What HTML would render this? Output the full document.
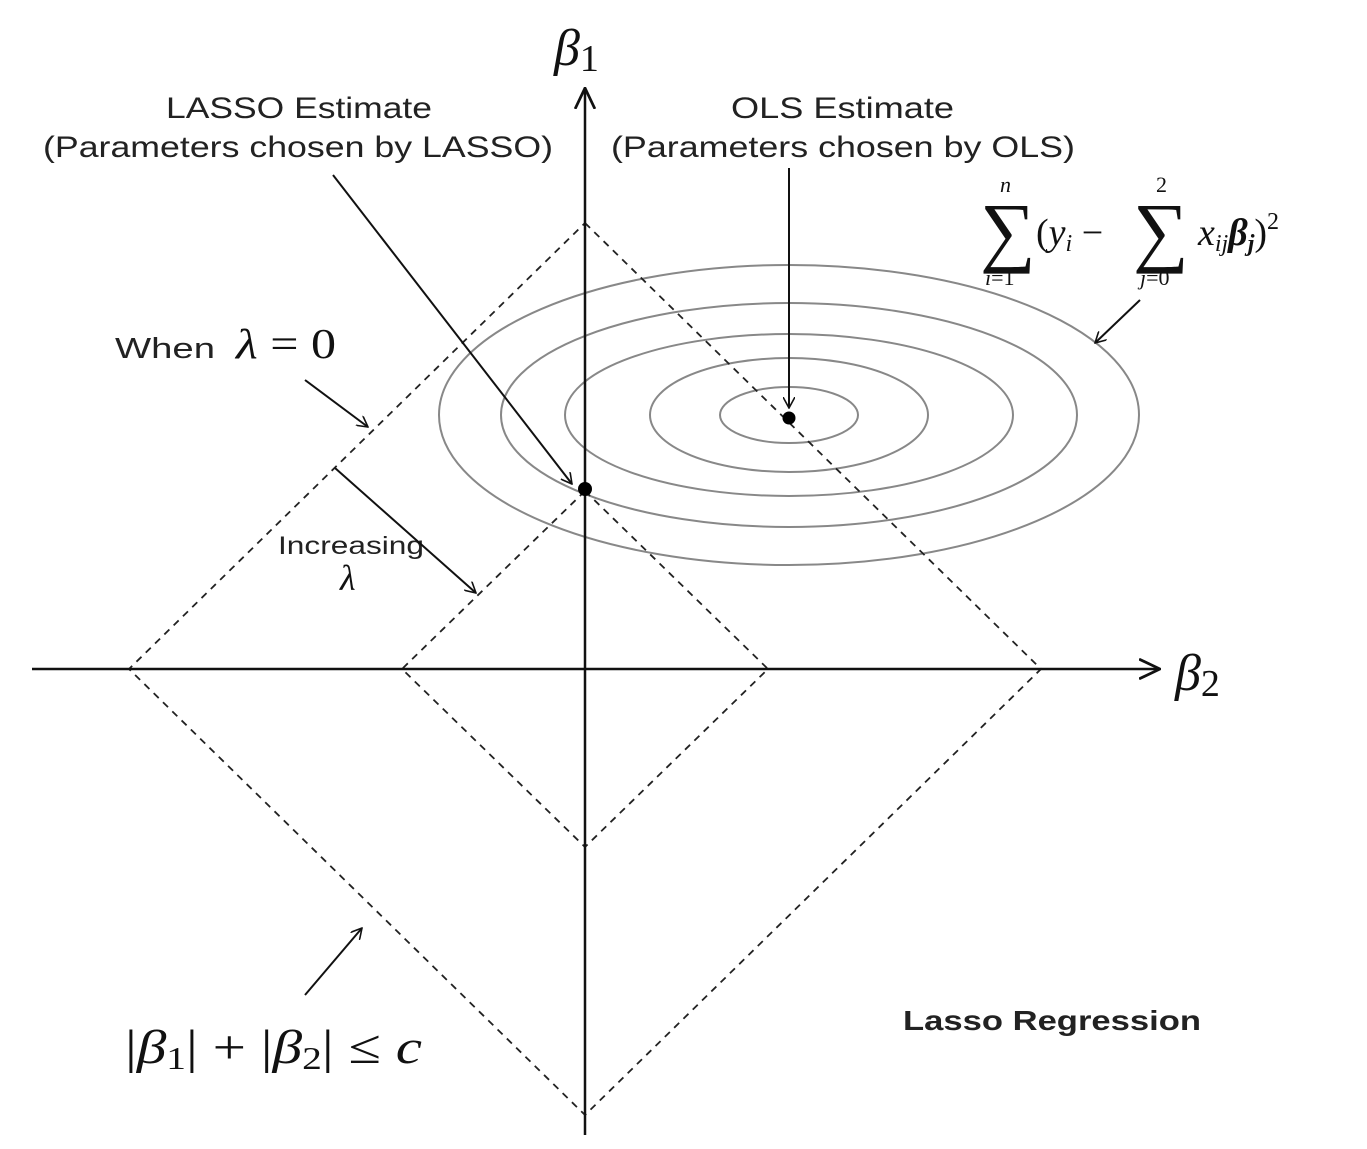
<!DOCTYPE html>
<html><head><meta charset="utf-8"><style>
html,body{margin:0;padding:0;background:#fff;width:1367px;height:1149px;overflow:hidden}
svg{display:block}
.lbl{font-family:"Liberation Sans",sans-serif;fill:#222}
.math{font-family:"Liberation Serif",serif;font-style:italic;fill:#111}
</style></head><body>
<svg id="chart" width="1367" height="1149" viewBox="0 0 1367 1149" xmlns="http://www.w3.org/2000/svg">
<defs><marker id="ah" viewBox="0 0 12 12" refX="11" refY="6" markerWidth="12" markerHeight="12" markerUnits="userSpaceOnUse" orient="auto"><path d="M0,0 L11,6 L0,12" fill="none" stroke="#111" stroke-width="1.6"/></marker>
<marker id="ahb" viewBox="0 0 20 20" refX="19" refY="10" markerWidth="22" markerHeight="22" markerUnits="userSpaceOnUse" orient="auto"><path d="M0,1 L19,10 L0,19" fill="none" stroke="#111" stroke-width="2.5"/></marker></defs>
<g id="contours"></g>
<g id="diamonds"></g>
<line x1="32" y1="669" x2="1160" y2="669" stroke="#111" stroke-width="2.5" marker-end="url(#ahb)"/>
<line x1="585" y1="1135" x2="585" y2="88" stroke="#111" stroke-width="2.5" marker-end="url(#ahb)"/>
<text class="math" x="554" y="65" font-size="52">β<tspan font-style="normal" font-size="38" dy="6">1</tspan></text>
<text class="math" x="1175" y="690" font-size="52">β<tspan font-style="normal" font-size="38" dy="6">2</tspan></text>
<text class="lbl" x="166" y="118" font-size="30" textLength="266" lengthAdjust="spacingAndGlyphs">LASSO Estimate</text>
<text class="lbl" x="43" y="157" font-size="30" textLength="510" lengthAdjust="spacingAndGlyphs">(Parameters chosen by LASSO)</text>
<text class="lbl" x="731" y="118" font-size="30" textLength="223" lengthAdjust="spacingAndGlyphs">OLS Estimate</text>
<text class="lbl" x="611" y="157" font-size="30" textLength="464" lengthAdjust="spacingAndGlyphs">(Parameters chosen by OLS)</text>
<g class="math">
<text x="980" y="257" font-size="78" font-style="normal">∑</text>
<text x="1000" y="192" font-size="22">n</text>
<text x="985" y="285" font-size="22">i<tspan font-style="normal">=1</tspan></text>
<text x="1036" y="245" font-size="38"><tspan font-style="normal">(</tspan>y<tspan font-size="24" dy="6">i</tspan><tspan dy="-6" font-style="normal"> − </tspan></text>
<text x="1133" y="257" font-size="78" font-style="normal">∑</text>
<text x="1156" y="192" font-size="22" font-style="normal">2</text>
<text x="1140" y="285" font-size="22">j<tspan font-style="normal">=0</tspan></text>
<text x="1198" y="245" font-size="38">x<tspan font-size="24" dy="6">ij</tspan><tspan dy="-6" font-weight="bold">β</tspan><tspan font-size="24" dy="6" font-weight="bold">j</tspan><tspan dy="-6" font-style="normal">)</tspan><tspan font-size="24" dy="-16" font-style="normal">2</tspan></text>
</g>
<text class="lbl" x="115" y="358" font-size="29" textLength="100" lengthAdjust="spacingAndGlyphs">When</text>
<text class="math" x="236" y="358" font-size="42" textLength="100" lengthAdjust="spacingAndGlyphs">λ <tspan font-style="normal">= 0</tspan></text>
<text class="lbl" x="278" y="554" font-size="25" textLength="146" lengthAdjust="spacingAndGlyphs">Increasing</text>
<text class="math" x="340" y="590" font-size="36">λ</text>
<text class="math" x="125" y="1063" font-size="48" textLength="297" lengthAdjust="spacingAndGlyphs"><tspan font-style="normal">|</tspan>β<tspan font-size="32" font-style="normal" dy="6">1</tspan><tspan font-style="normal" dy="-6">| + |</tspan>β<tspan font-size="32" font-style="normal" dy="6">2</tspan><tspan font-style="normal" dy="-6">| ≤ </tspan>c</text>
<text class="lbl" x="903" y="1030" font-size="28" font-weight="bold" fill="#111" textLength="298" lengthAdjust="spacingAndGlyphs">Lasso Regression</text>
<g id="arrows" stroke="#111" stroke-width="2" fill="none">
<line x1="333" y1="175" x2="572" y2="484" marker-end="url(#ah)"/>
<line x1="789" y1="168" x2="789" y2="408" marker-end="url(#ah)"/>
<line x1="1140" y1="300" x2="1095" y2="343" marker-end="url(#ah)"/>
<line x1="305" y1="380" x2="368" y2="427" marker-end="url(#ah)"/>
<line x1="335" y1="468" x2="476" y2="593" marker-end="url(#ah)"/>
<line x1="305" y1="995" x2="362" y2="928" marker-end="url(#ah)"/>
</g>
<circle cx="789" cy="418" r="6.5" fill="#000"/>
<circle cx="585" cy="489" r="7" fill="#000"/>
</svg>
<script>
const contourRx = [350, 288, 224, 139, 69];
const contourRy = [150, 112, 81, 57, 28];
const olsCenter = [789, 415];
const diamondRadiusX = [456, 183];
const diamondRadiusY = [446, 178];
const NS = "http://www.w3.org/2000/svg";
const origin = [585, 669];
const cg = document.getElementById('contours');
contourRx.forEach((rx, i) => {
  const e = document.createElementNS(NS, 'ellipse');
  e.setAttribute('cx', olsCenter[0]); e.setAttribute('cy', olsCenter[1]);
  e.setAttribute('rx', rx); e.setAttribute('ry', contourRy[i]);
  e.setAttribute('fill', 'none'); e.setAttribute('stroke', '#888'); e.setAttribute('stroke-width', '2');
  
  
  cg.appendChild(e);
});
const dg = document.getElementById('diamonds');
diamondRadiusX.forEach((rx, i) => {
  const ry = diamondRadiusY[i];
  const p = document.createElementNS(NS, 'polygon');
  const [ox, oy] = origin;
  p.setAttribute('points', `${ox},${oy - ry} ${ox + rx},${oy} ${ox},${oy + ry} ${ox - rx},${oy}`);
  p.setAttribute('fill', 'none'); p.setAttribute('stroke', '#222'); p.setAttribute('stroke-width', '1.8');
  p.setAttribute('stroke-dasharray', '7 6');
  
  
  dg.appendChild(p);
});
</script>
</body></html>
